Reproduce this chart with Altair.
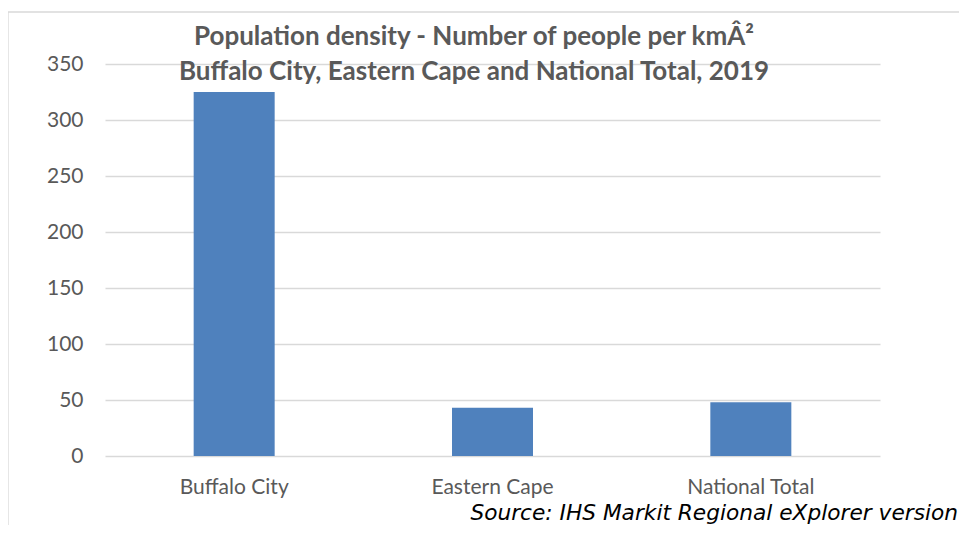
import altair as alt
import pandas as pd

categories = ["Buffalo City", "Eastern Cape", "National Total"]
values = [325, 43, 48]
y_ticks = [0, 50, 100, 150, 200, 250, 300, 350]
title_lines = ["Population density - Number of people per kmÂ²",
               "Buffalo City, Eastern Cape and National Total, 2019"]
source_text = ["Source: IHS Markit Regional eXplorer version"]

df = pd.DataFrame({"cat": categories, "val": values})
src = pd.DataFrame({"t": source_text})

W, H = 775, 392

bars = alt.Chart(df).mark_bar(color="#4f81bd", size=81).encode(
    x=alt.X("cat:N", sort=categories, title=None,
            scale=alt.Scale(paddingInner=0, paddingOuter=0),
            axis=alt.Axis(labelAngle=0, labelFont="Lato", labelFontSize=21,
                          labelColor="#595959", labelPadding=20, ticks=False,
                          domain=False, grid=False)),
    y=alt.Y("val:Q", title=None,
            scale=alt.Scale(domain=[0, 350], nice=False),
            axis=alt.Axis(values=y_ticks, labelFont="Lato", labelFontSize=21,
                          labelColor="#595959", labelPadding=22, ticks=False,
                          domain=False, grid=True, gridColor="#d9d9d9",
                          gridWidth=1.3)),
)

title_charts = []
for i, line in enumerate(title_lines):
    tdf = pd.DataFrame({"t": [line]})
    title_charts.append(
        alt.Chart(tdf).mark_text(
            font="Lato", fontSize=26, fontWeight="bold", color="#595959",
            align="center", baseline="alphabetic"
        ).encode(text="t:N", x=alt.value(369), y=alt.value(-19 + 35 * i))
    )

source = alt.Chart(src).mark_text(
    font="DejaVu Sans", fontStyle="italic", fontSize=21.7, color="#000000",
    align="right", baseline="alphabetic"
).encode(text="t:N", x=alt.value(W + 78), y=alt.value(H + 64))

frame_left = alt.Chart(src).mark_rule(color="#d9d9d9", strokeWidth=1.3).encode(
    x=alt.value(-97), y=alt.value(-52), y2=alt.value(H + 80))
frame_top = alt.Chart(src).mark_rule(color="#d9d9d9", strokeWidth=1.3).encode(
    x=alt.value(-97), x2=alt.value(W + 100), y=alt.value(-52))

chart = alt.layer(frame_left, frame_top, bars, *title_charts, source).properties(
    width=W, height=H,
    autosize=alt.AutoSizeParams(type="none"),
    padding={"left": 97, "top": 56, "right": 79, "bottom": 69},
).configure_view(stroke=None)

chart.save("out.html", embed_options={"renderer": "svg", "actions": False})
